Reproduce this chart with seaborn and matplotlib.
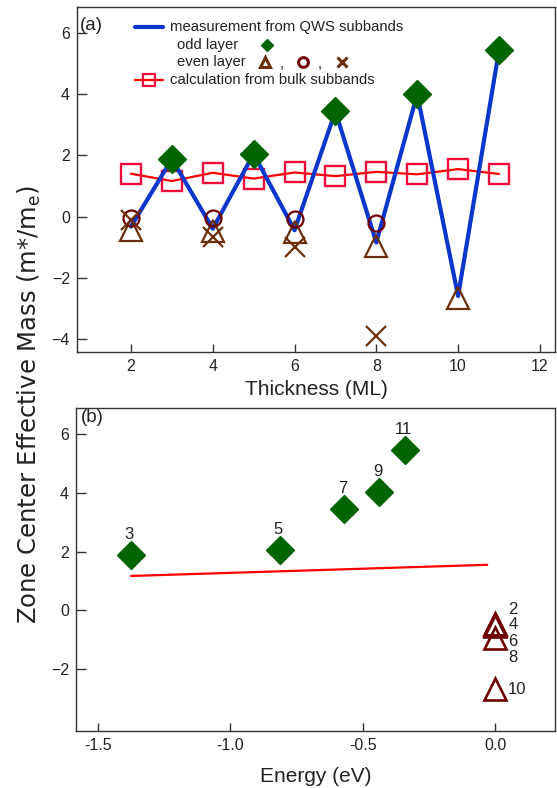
import matplotlib
matplotlib.use("Agg")
import matplotlib.pyplot as plt
import seaborn as sns
from matplotlib.lines import Line2D
from matplotlib.text import Text
from matplotlib.offsetbox import AnchoredOffsetbox, DrawingArea, HPacker, TextArea, VPacker

# (a) effective mass vs thickness
thickness = [2, 3, 4, 5, 6, 7, 8, 9, 10, 11]
measured_mass = [-0.33, 1.88, -0.40, 2.05, -0.45, 3.44, -0.85, 4.00, -2.60, 5.43]
bulk_mass = [1.40, 1.16, 1.43, 1.24, 1.44, 1.32, 1.46, 1.38, 1.55, 1.39]

odd_thickness = [3, 5, 7, 9, 11]
odd_mass = [1.89, 2.06, 3.45, 4.02, 5.45]

even_thickness = [2, 4, 6, 8, 10]
even_triangle = [-0.45, -0.48, -0.52, -0.95, -2.68]
circle_thickness = [2, 4, 6, 8]
even_circle = [-0.05, -0.04, -0.08, -0.22]
even_cross = [-0.11, -0.68, -0.99, -3.90]

# (b) effective mass vs energy
odd_energy = [-1.376, -0.814, -0.569, -0.437, -0.342]
even_energy = [0.0, 0.0, 0.0, 0.0, 0.0]
bulk_energy = [-1.375, -0.03]
bulk_line_mass = [1.17, 1.55]

BLUE = "#0b36cc"
RED = "#ff0000"
RED_SQ = "#f00a3c"
GREEN = "#006400"
BROWN = "#6b2e08"
MAROON = "#6e0000"
INK = "#222222"

sns.set_theme(style="ticks")
plt.rcParams["font.family"] = ["Liberation Sans", "DejaVu Sans"]
plt.rcParams["axes.edgecolor"] = "#333333"
plt.rcParams["axes.linewidth"] = 1.0

fig = plt.figure(figsize=(5.57, 7.88), dpi=100)
ax_a = fig.add_axes([77 / 557, 1 - 352 / 788, 478 / 557, 345 / 788])
ax_b = fig.add_axes([76 / 557, 1 - 731 / 788, 479 / 557, 323 / 788])

# ---- panel (a)
sns.lineplot(x=thickness, y=bulk_mass, ax=ax_a, color=RED, lw=1.6, marker="s", ms=14,
             mfc="none", mec=RED_SQ, mew=1.7, estimator=None, sort=False, legend=False, zorder=2)
sns.lineplot(x=thickness, y=measured_mass, ax=ax_a, color=BLUE, lw=3.0,
             estimator=None, sort=False, legend=False, zorder=3)
sns.lineplot(x=even_thickness, y=even_triangle, ax=ax_a, ls="none", marker="^", ms=16,
             mfc="none", mec=BROWN, mew=1.6, estimator=None, sort=False, legend=False, zorder=4)
sns.lineplot(x=circle_thickness, y=even_circle, ax=ax_a, ls="none", marker="o", ms=11.5,
             mfc="none", mec=MAROON, mew=1.6, estimator=None, sort=False, legend=False, zorder=4)
sns.lineplot(x=circle_thickness, y=even_cross, ax=ax_a, ls="none", marker="x", ms=15,
             mec=BROWN, mew=1.6, estimator=None, sort=False, legend=False, zorder=4)
sns.lineplot(x=odd_thickness, y=odd_mass, ax=ax_a, ls="none", marker="D", ms=14.5,
             mfc=GREEN, mec=GREEN, mew=1, estimator=None, sort=False, legend=False, zorder=5)

ax_a.set_xlim(0.68, 12.37)
ax_a.set_ylim(-4.43, 6.85)
ax_a.set_xticks([2, 4, 6, 8, 10, 12])
ax_a.set_yticks([-4, -2, 0, 2, 4, 6])
ax_a.set_xlabel("Thickness (ML)", fontsize=15, color=INK, labelpad=4.5)
ax_a.text(0.006, 0.97, "(a)", transform=ax_a.transAxes, fontsize=13.5, color=INK,
          ha="left", va="top")

# legend built from packed boxes (markers follow the text, like the original)
fs_leg = 10.7
px = 0.72


def txt(s):
    return TextArea(s, textprops=dict(fontsize=fs_leg, color=INK))


def handle(width, height, *artists):
    da = DrawingArea(width, height, 0, 0)
    for a in artists:
        da.add_artist(a)
    return da


h = 9
row1 = HPacker(children=[
    handle(28 * px, h, Line2D([0, 28 * px], [h / 2, h / 2], color=BLUE, lw=3)),
    txt("measurement from QWS subbands")], sep=7 * px, align="center", pad=0)
row2 = HPacker(children=[
    handle(42 * px, h), txt("odd layer"),
    handle(40 * px, h, Line2D([29 * px], [h / 2], marker="D", ms=6.5, mfc=GREEN, mec=GREEN, ls="none"))],
    sep=0, align="center", pad=0)
row3 = HPacker(children=[
    handle(42 * px, h), txt("even layer"),
    handle(110 * px, h,
           Line2D([19 * px], [h / 2], marker="^", ms=7.5, mfc="none", mec=BROWN, mew=2.2, ls="none"),
           Text(36 * px, h / 2 - 4, ",", fontsize=fs_leg, color=INK, ha="center", va="baseline"),
           Line2D([57 * px], [h / 2], marker="o", ms=7, mfc="none", mec=MAROON, mew=2.2, ls="none"),
           Text(74 * px, h / 2 - 4, ",", fontsize=fs_leg, color=INK, ha="center", va="baseline"),
           Line2D([96 * px], [h / 2], marker="x", ms=7.5, mec=BROWN, mew=2.2, ls="none"))],
    sep=0, align="center", pad=0)
row4 = HPacker(children=[
    handle(28 * px, h, Line2D([0, 28 * px], [h / 2, h / 2], color=RED, lw=1.6),
           Line2D([14 * px], [h / 2], marker="s", ms=8, mfc="none", mec=RED_SQ, mew=1.6, ls="none")),
    txt("calculation from bulk subbands")], sep=7 * px, align="center", pad=0)
box = VPacker(children=[row1, row2, row3, row4], sep=2.5, align="left", pad=0)
ax_a.add_artist(AnchoredOffsetbox(loc="upper left", child=box, pad=0, borderpad=0, frameon=False,
                                  bbox_to_anchor=(0.121, 0.962), bbox_transform=ax_a.transAxes))

# ---- panel (b)
sns.lineplot(x=bulk_energy, y=bulk_line_mass, ax=ax_b, color=RED, lw=1.6,
             estimator=None, sort=False, legend=False, zorder=2)
sns.lineplot(x=odd_energy, y=odd_mass, ax=ax_b, ls="none", marker="D", ms=14.5,
             mfc=GREEN, mec=GREEN, mew=1, estimator=None, sort=False, legend=False, zorder=5)
sns.lineplot(x=even_energy, y=even_triangle, ax=ax_b, ls="none", marker="^", ms=16,
             mfc="none", mec=MAROON, mew=1.9, estimator=None, sort=False, legend=False, zorder=4)

for n, e, m in zip(odd_thickness, odd_energy, odd_mass):
    ax_b.annotate(str(n), (e, m), xytext=(-1, 11.5), textcoords="offset points",
                  ha="center", va="baseline", fontsize=12, color=INK)
even_label_dy = [10, 0, -11.5, -14, -0.5]
for n, e, m, dy in zip(even_thickness, even_energy, even_triangle, even_label_dy):
    ax_b.annotate(str(n), (e, m), xytext=(9.4, dy), textcoords="offset points",
                  ha="left", va="center", fontsize=12, color=INK)

ax_b.set_xlim(-1.583, 0.226)
ax_b.set_ylim(-4.11, 6.89)
ax_b.set_xticks([-1.5, -1.0, -0.5, 0.0])
ax_b.set_xticklabels(["-1.5", "-1.0", "-0.5", "0.0"])
ax_b.set_yticks([-2, 0, 2, 4, 6])
ax_b.set_xlabel("Energy (eV)", fontsize=15, color=INK, labelpad=10)
ax_b.text(0.01, 0.998, "(b)", transform=ax_b.transAxes, fontsize=13.5, color=INK,
          ha="left", va="top")

for ax in (ax_a, ax_b):
    ax.set_ylabel("")
    ax.tick_params(axis="both", direction="in", width=1, colors="#333333",
                   labelsize=11.5, labelcolor=INK)
    ax.tick_params(axis="y", length=7, pad=5)
    ax.tick_params(axis="x", length=6, pad=5)
    for s in ax.spines.values():
        s.set_visible(True)
        s.set_color("#333333")
        s.set_linewidth(1.0)

fig.text(0.053, 0.486, "Zone Center Effective Mass (m*/m$_\\mathregular{e}$)", rotation=90,
         ha="center", va="center", fontsize=17.5, color=INK, family="DejaVu Sans")

fig.savefig("out.png", dpi=100)
